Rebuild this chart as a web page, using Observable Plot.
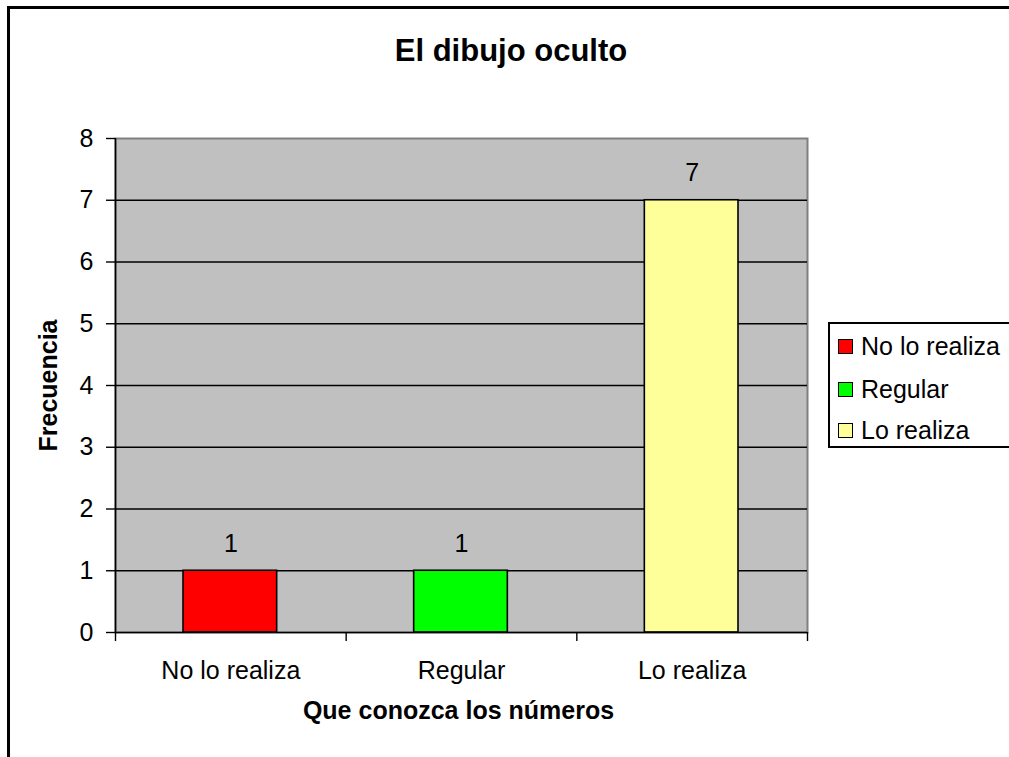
<!DOCTYPE html>
<html>
<head>
<meta charset="utf-8">
<script src="https://cdn.jsdelivr.net/npm/d3@7"></script>
<script src="https://cdn.jsdelivr.net/npm/@observablehq/plot@0.6"></script>
<style>
  html, body { margin: 0; padding: 0; background: #fff; }
  #wrap { position: relative; width: 1009px; height: 757px; overflow: hidden; font-family: "Liberation Sans", Arial, sans-serif; }
  #border { position: absolute; left: 7px; top: 6px; width: 1200px; height: 1000px; border: 3px solid #000; box-sizing: border-box; }
  #title { position: absolute; left: 0; width: 1022px; top: 35px; text-align: center; font-size: 31px; font-weight: bold; line-height: 1; color: #000; }
  #chart { position: absolute; left: 0; top: 0; }
  #legend { position: absolute; left: 828px; top: 322px; width: 260px; height: 126px; border: 2px solid #000; box-sizing: border-box; background: #fff; }
  .row { position: absolute; left: 8px; height: 30px; display: flex; align-items: center; font-size: 25px; color: #000; white-space: nowrap; }
  .sw { width: 13px; height: 13px; border: 1px solid #000; margin-right: 8px; }
</style>
</head>
<body>
<div id="wrap">
  <div id="border"></div>
  <div id="chart"></div>
  <div id="title"></div>
  <div id="legend"></div>
</div>
<script>
const categories = ["No lo realiza", "Regular", "Lo realiza"];
const values = [1, 1, 7];
const yTicks = [0, 1, 2, 3, 4, 5, 6, 7, 8];
const titleText = "El dibujo oculto";
const xTitle = "Que conozca los números";
const yTitle = "Frecuencia";
const palette = ["#FF0000", "#00FF00", "#FFFF99"];

const data = categories.map((c, i) => ({ category: c, index: i, value: values[i] }));

const chart = Plot.plot({
  width: 1009,
  height: 757,
  marginLeft: 115,
  marginRight: 202,
  marginTop: 138,
  marginBottom: 125,
  style: { fontFamily: "'Liberation Sans', Arial, sans-serif", fontSize: "25px", color: "#000", background: "transparent" },
  x: { type: "linear", domain: [0, categories.length], axis: null },
  y: { domain: [0, 8], axis: null },
  color: { domain: categories, range: palette },
  marks: [
    Plot.frame({ fill: "#C0C0C0", stroke: "#808080", strokeWidth: 2 }),
    Plot.ruleY(yTicks.filter(d => d > 0 && d < 8), { stroke: "#000", strokeWidth: 1.4 }),
    Plot.rectY(data, {
      x1: d => d.index, x2: d => d.index + 1, y: "value",
      insetLeft: 68, insetRight: 69,
      fill: "category", stroke: "#000", strokeWidth: 1.6
    }),
    Plot.ruleX([0], { stroke: "#000", strokeWidth: 1.6 }),
    Plot.ruleY([0], { stroke: "#000", strokeWidth: 1.6 }),
    Plot.axisY({ ticks: yTicks, tickSize: 9, tickPadding: 13, fontSize: 25, label: null, strokeWidth: 1.4 }),
    Plot.axisX({ ticks: d3.range(0, categories.length + 1), tickSize: 9, tickFormat: () => "", label: null, strokeWidth: 1.4 }),
    Plot.text(data, { x: d => d.index + 0.5, y: 0, text: "category", dy: 38, fontSize: 25 }),
    Plot.text(data, { x: d => d.index + 0.5, y: "value", text: d => String(d.value), dy: -27, fontSize: 25 }),
    Plot.text([yTitle], { frameAnchor: "left", textAnchor: "middle", dx: -67, rotate: -90, fontWeight: "bold", fontSize: 25 }),
    Plot.text([xTitle], { frameAnchor: "bottom", dy: 86, dx: -3, fontWeight: "bold", fontSize: 25 })
  ]
});
document.getElementById("chart").appendChild(chart);
document.getElementById("title").textContent = titleText;

const legend = document.getElementById("legend");
const rowCenters = [22, 65, 106];
categories.forEach((c, i) => {
  const row = document.createElement("div");
  row.className = "row";
  row.style.top = (rowCenters[i] - 15) + "px";
  const sw = document.createElement("div");
  sw.className = "sw";
  sw.style.background = palette[i];
  const t = document.createElement("span");
  t.textContent = c;
  row.appendChild(sw);
  row.appendChild(t);
  legend.appendChild(row);
});
</script>
</body>
</html>
